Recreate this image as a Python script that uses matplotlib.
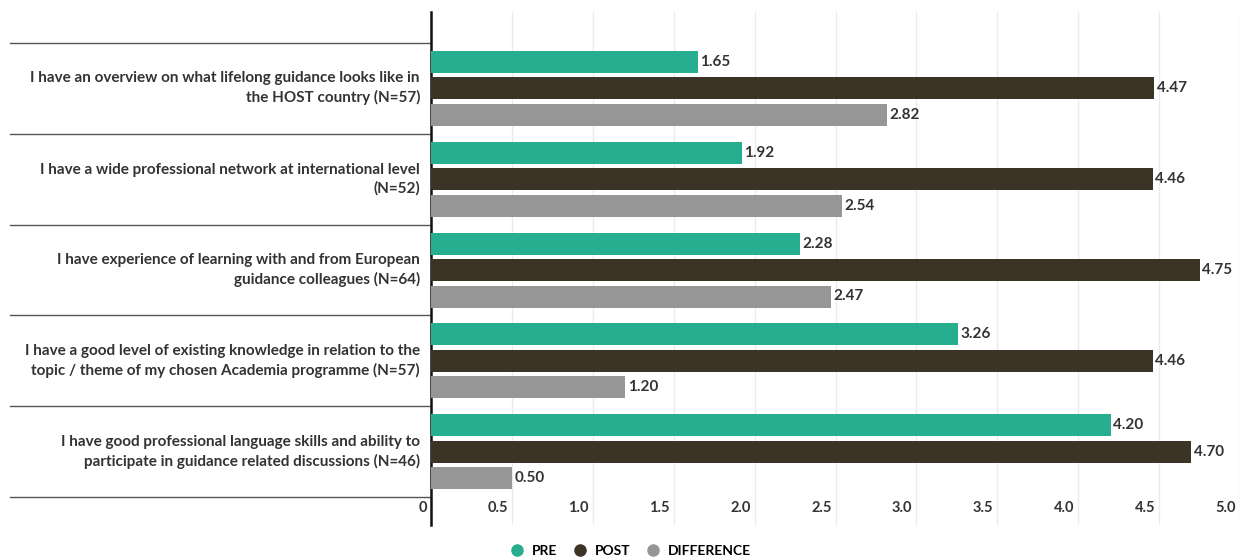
import matplotlib.pyplot as plt
import matplotlib.transforms as mtransforms
from matplotlib.lines import Line2D
import numpy as np

plt.rcParams['font.family'] = ['Lato', 'DejaVu Sans']

# Data
statements = [
    "I have an overview on what lifelong guidance looks like in\nthe HOST country (N=57)",
    "I have a wide professional network at international level\n(N=52)",
    "I have experience of learning with and from European\nguidance colleagues (N=64)",
    "I have a good level of existing knowledge in relation to the\ntopic / theme of my chosen Academia programme (N=57)",
    "I have good professional language skills and ability to\nparticipate in guidance related discussions (N=46)",
]
pre = [1.65, 1.92, 2.28, 3.26, 4.20]
post = [4.47, 4.46, 4.75, 4.46, 4.70]
difference = [2.82, 2.54, 2.47, 1.20, 0.50]
series_names = ["PRE", "POST", "DIFFERENCE"]
colors = ["#26ae8f", "#3b3326", "#969696"]
ticks = [0, 0.5, 1.0, 1.5, 2.0, 2.5, 3.0, 3.5, 4.0, 4.5, 5.0]
tick_labels = ["0", "0.5", "1.0", "1.5", "2.0", "2.5", "3.0", "3.5", "4.0", "4.5", "5.0"]

W, H = 1240, 560
fig = plt.figure(figsize=(W / 100, H / 100), dpi=100)
# axes spans pixel x 431..1240, y 12..525
ax = fig.add_axes([431 / W, 1 - 525 / H, (W - 431) / W, (525 - 12) / H])

grp_h = 90.8
y_top = -(88.4 - 12) / grp_h
y_bot = (525 - 88.4) / grp_h
ax.set_ylim(y_bot, y_top)
ax.set_xlim(0, (W - 431) / 162.5)

y = np.arange(len(statements))
offset = 26.5 / grp_h
bar_h = 22 / grp_h

for k, (vals, c, off) in enumerate(zip([pre, post, difference], colors, [-offset, 0, offset])):
    bars = ax.barh(y + off, vals, height=bar_h, color=c, zorder=3)
    for b, v in zip(bars, vals):
        ax.text(v + 0.015, b.get_y() + b.get_height() / 2, f"{v:.2f}",
                va='center', ha='left', fontsize=11, fontweight='bold', color='#333333', zorder=4)

# gridlines
for t in ticks[1:]:
    ax.axvline(t, color='#ebebeb', lw=1, zorder=0)

for s in ['top', 'right', 'bottom']:
    ax.spines[s].set_visible(False)
ax.spines['left'].set_color('#111111')
ax.spines['left'].set_linewidth(1.8)
ax.set_yticks([])

ax.set_xticks(ticks)
ax.set_xticklabels(tick_labels)
ax.tick_params(axis='x', length=0, pad=-17, labelsize=10.5, labelcolor='#333333')
shift = mtransforms.ScaledTranslation(-4 / 100, 0, fig.dpi_scale_trans)
for lab in ax.get_xticklabels():
    lab.set_ha('right')
    lab.set_fontweight('bold')
    lab.set_transform(lab.get_transform() + shift)

# category separators and labels left of axis
trans = mtransforms.blended_transform_factory(ax.transAxes, ax.transData)
x_left = (10 - 431) / (W - 431)
for yy in np.arange(-0.5, len(statements), 1.0):
    ax.plot([x_left, 0], [yy, yy], color='#555555', lw=1, transform=trans, clip_on=False)
for i, s in enumerate(statements):
    ax.text(-11 / (W - 431), i, s, transform=trans, ha='right', va='center',
            fontsize=11, fontweight='bold', color='#333333', linespacing=1.4)

handles = [Line2D([], [], marker='o', ls='', markersize=8, color=c) for c in colors]
fig.legend(handles, series_names, loc='center', bbox_to_anchor=(627 / W, 1 - 551 / H),
           ncol=3, frameon=False, handletextpad=0.1, columnspacing=0.6,
           prop={'weight': 'bold', 'size': 10})

fig.savefig("out.png", dpi=100)
